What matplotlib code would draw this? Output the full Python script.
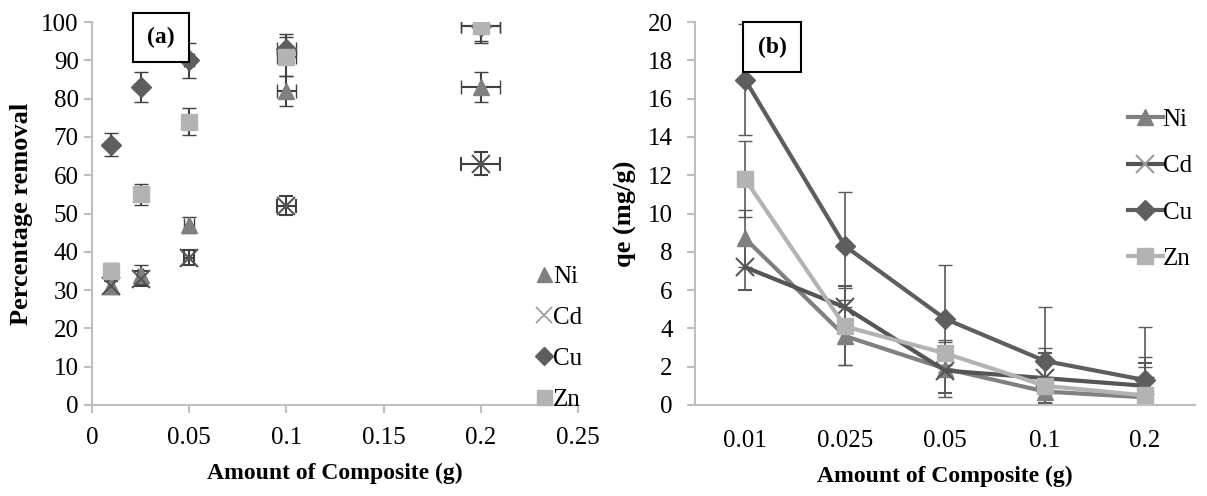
import numpy as np
import matplotlib
matplotlib.use("Agg")
import matplotlib.pyplot as plt
from matplotlib.lines import Line2D

plt.rcParams['font.family'] = ['Liberation Serif', 'DejaVu Serif']

# (a) percentage removal
x_a = [0.01, 0.025, 0.05, 0.1, 0.2]
x_a_err = [0.0005, 0.00125, 0.0025, 0.005, 0.01]
ni_a = [31, 34, 47, 82, 83]
ni_a_err = [2, 2.5, 2, 4, 4]
cd_a = [31, 33, 38.5, 52, 63]
cd_a_err = [1.5, 2, 2, 2.5, 3]
cu_a = [68, 83, 90, 93, 99]
cu_a_err = [3, 4, 4.5, 4, 4]
zn_a = [35, 55, 74, 91, 99]
zn_a_err = [2, 2.7, 3.5, 5, 4.5]

# (b) qe
cats_b = ['0.01', '0.025', '0.05', '0.1', '0.2']
ni_b = [8.7, 3.6, 1.9, 0.7, 0.4]
ni_b_err = [1.5, 1.5, 1.5, 0.6, 1.6]
cd_b = [7.2, 5.1, 1.8, 1.4, 1.0]
cd_b_err = [1.2, 1.1, 1.2, 1.3, 1.2]
cu_b = [17.0, 8.3, 4.5, 2.3, 1.3]
cu_b_err = [2.9, 2.8, 2.8, 2.8, 2.75]
zn_b = [11.8, 4.1, 2.7, 1.0, 0.5]
zn_b_err = [2.0, 2.0, 0.6, 2.0, 2.0]

names = ['Ni', 'Cd', 'Cu', 'Zn']
colors = ['#808080', '#555555', '#5e5e5e', '#b3b3b3']
markers = ['^', 'x', 'D', 's']
msizes = [12, 13, 10, 12]

fig = plt.figure(figsize=(12.07, 4.96), dpi=100)
ax1 = fig.add_axes([0.0762, 0.1835, 0.4027, 0.772])
ax2 = fig.add_axes([0.5758, 0.1835, 0.4143, 0.772])

spine_c = '#bfbfbf'
ecol = '#404040'

series_a = [(ni_a, ni_a_err), (cd_a, cd_a_err), (cu_a, cu_a_err), (zn_a, zn_a_err)]
for (y, ye), n, c, m, s in zip(series_a, names, colors, markers, msizes):
    ax1.errorbar(x_a, y, yerr=ye, xerr=x_a_err, fmt=m, color=c, ms=s,
                 mew=1.5 if m == 'x' else 1, ecolor=ecol, elinewidth=1.5,
                 capsize=5, capthick=1.5)

ax1.set_xlim(0, 0.25)
ax1.set_ylim(0, 100)
ax1.set_xticks(np.arange(0, 0.251, 0.05))
ax1.set_xticklabels(['0', '0.05', '0.1', '0.15', '0.2', '0.25'])
ax1.set_yticks(np.arange(0, 101, 10))
ax1.set_xlabel('Amount of Composite (g)', fontsize=17, fontweight='bold', labelpad=10)
ax1.set_ylabel('Percentage removal', fontsize=19, fontweight='bold', labelpad=6)
ax1.text(0.0355, 96, '(a)', fontsize=17, fontweight='bold', ha='center', va='center',
         bbox=dict(boxstyle='square,pad=0.6', fc='white', ec='black', lw=1.5))
h_a = [Line2D([], [], ls='none', marker=m, color=c, ms=s * 0.9, mew=1.2 if m == 'x' else 1)
       for c, m, s in zip(colors, markers, msizes)]
h_a[1].set_color('#999999')
ax1.legend(h_a, names, loc='upper left', bbox_to_anchor=(0.895, 0.39), frameon=False,
           fontsize=18, handlelength=0.6, handletextpad=0.05, labelspacing=0.74,
           borderaxespad=0)

series_b = [(ni_b, ni_b_err), (cd_b, cd_b_err), (cu_b, cu_b_err), (zn_b, zn_b_err)]
xb = np.arange(len(cats_b))
for (y, ye), n, c, m, s in zip(series_b, names, colors, markers, msizes):
    ax2.errorbar(xb, y, yerr=ye, fmt='-' + m, color=c, lw=3, ms=s,
                 mew=1.5 if m == 'x' else 1, ecolor='#5a5a5a', elinewidth=1.2,
                 capsize=5, capthick=1.2)

ax2.set_xlim(-0.5, 4.5)
ax2.set_ylim(0, 20)
ax2.set_xticks(xb)
ax2.set_xticklabels(cats_b)
ax2.set_yticks(np.arange(0, 21, 2))
ax2.set_xlabel('Amount of Composite (g)', fontsize=17, fontweight='bold', labelpad=10)
ax2.set_ylabel('qe (mg/g)', fontsize=19, fontweight='bold', labelpad=8)
ax2.text(0.27, 18.7, '(b)', fontsize=17, fontweight='bold', ha='center', va='center',
         bbox=dict(boxstyle='square,pad=0.6', fc='white', ec='black', lw=1.5))
h_b = [Line2D([], [], ls='-', lw=3, marker=m, color=c, ms=s, mew=1.5 if m == 'x' else 1)
       for c, m, s in zip(colors, markers, msizes)]
h_b[1].set_markeredgecolor('#999999')
ax2.legend(h_b, names, loc='upper left', bbox_to_anchor=(0.845, 0.80), frameon=False,
           fontsize=18, handlelength=1.4, handletextpad=0.0, labelspacing=0.95,
           borderaxespad=0)

for ax in (ax1, ax2):
    for sp in ('top', 'right'):
        ax.spines[sp].set_visible(False)
    for sp in ('left', 'bottom'):
        ax.spines[sp].set_color(spine_c)
        ax.spines[sp].set_linewidth(1.5)
    ax.tick_params(axis='both', labelsize=18, color=spine_c, width=1.5, length=6)
ax1.tick_params(axis='x', pad=10)
ax2.tick_params(axis='x', length=0, pad=18)
ax2.tick_params(axis='y', pad=10)

fig.savefig('out.png', dpi=100)
